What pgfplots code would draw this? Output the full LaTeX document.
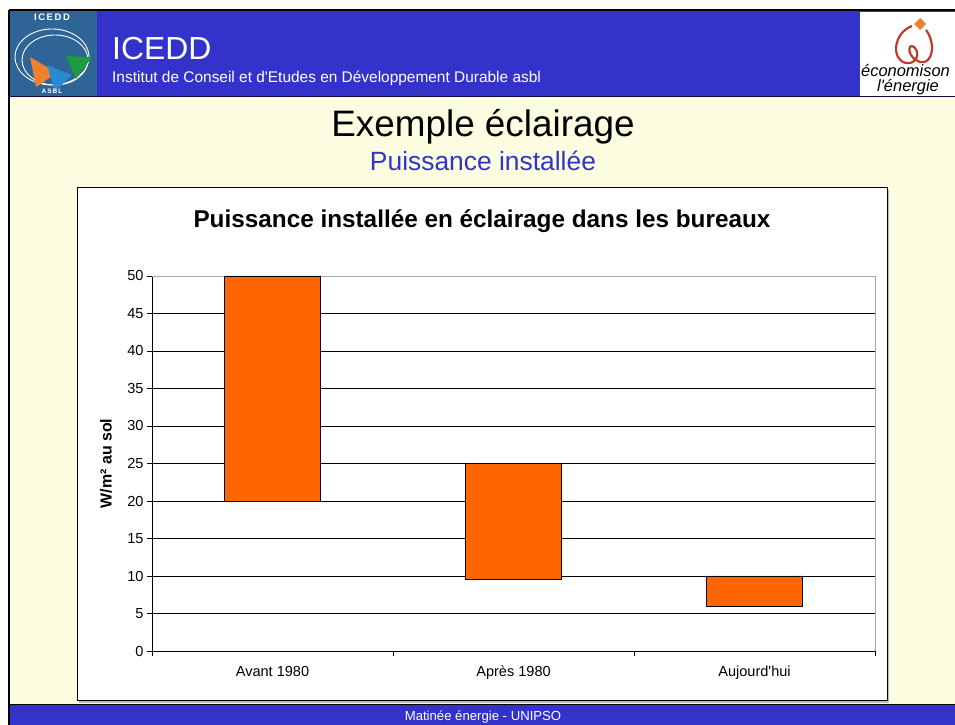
\documentclass[border=0pt]{standalone}
\usepackage{fontspec}
\setmainfont{Liberation Sans}
\usepackage{pgfplots}
\pgfplotsset{compat=1.18}
\definecolor{hdrblue}{HTML}{3333CC}
\definecolor{cream}{HTML}{FCFCE1}
\definecolor{logoblue}{HTML}{2E6496}
\definecolor{barorange}{HTML}{FF6600}
\definecolor{swirlred}{HTML}{C0392B}
\definecolor{logoorange}{HTML}{F08030}
\definecolor{logocyan}{HTML}{2A8AD0}
\definecolor{logogreen}{HTML}{1E9A40}
\begin{document}
\begin{tikzpicture}[x=1bp,y=1bp]
\useasboundingbox (0,0) rectangle (955,725);
\fill[white] (0,0) rectangle (955,725);
\fill[cream] (9,20) rectangle (955,628);
\fill[hdrblue] (9,628) rectangle (955,715);
\fill[hdrblue] (9,0) rectangle (955,20);
\draw[black,line width=1.5] (9,715) -- (955,715);
\draw[black,line width=2] (9,0) -- (9,715);
\draw[black!70!hdrblue,line width=1] (9,628) -- (955,628);
\draw[black,line width=1] (9,20) -- (955,20);
% left logo
\fill[logoblue] (10,629) rectangle (97,714);
\draw[white,line width=0.9] (52,668) ellipse [x radius=37, y radius=28];
\draw[white,line width=0.9] (55,665) ellipse [x radius=33, y radius=25];
\fill[logoorange] (30,668) -- (57,652) -- (36,638) -- cycle;
\fill[logocyan] (47,660) -- (72,650) -- (55,633) -- cycle;
\fill[logogreen] (66,669) -- (92,668) -- (76,646) -- cycle;
\node[white,font=\bfseries\fontsize{9.5}{10}\selectfont,anchor=base] at (52,704) {I\,C\,E\,D\,D};
\node[white,font=\bfseries\fontsize{6.5}{7}\selectfont,anchor=base] at (52,631) {A\,S\,B\,L};
% right logo
\fill[white] (860,629) rectangle (955,713);
\fill[logoorange] (920,707) -- (926,701) -- (920,695) -- (914,701) -- cycle;
\draw[swirlred,line width=2.2] (912,699) .. controls (893,692) and (891,665) .. (906,662)
  .. controls (916,660) and (921,672) .. (914,678) .. controls (907,683) and (907,667) .. (920,663)
  .. controls (933,660) and (936,682) .. (926,695);
\node[black,font=\itshape\fontsize{16.5}{18}\selectfont,anchor=base west,inner sep=0] at (861,648) {économison};
\node[black,font=\itshape\fontsize{16.5}{18}\selectfont,anchor=base,inner sep=0] at (908,633) {l\textquotesingle énergie};
% header texts
\node[white,font=\fontsize{32}{35}\selectfont,anchor=base west,inner sep=0] at (112,665) {ICEDD};
\node[white,font=\fontsize{15.5}{17}\selectfont,anchor=base west,inner sep=0] at (112,642) {Institut de Conseil et d\textquotesingle Etudes en Développement Durable asbl};
% footer
\node[white,font=\fontsize{13.2}{15}\selectfont,anchor=base,inner sep=0] at (483,4) {Matinée énergie - UNIPSO};
% slide titles
\node[black,font=\fontsize{37}{42}\selectfont,anchor=base,inner sep=0] at (483,588) {Exemple éclairage};
\node[hdrblue,font=\fontsize{26.5}{30}\selectfont,anchor=base,inner sep=0] at (483,554) {Puissance installée};
% chart box
\fill[gray!55] (79,22) rectangle (889,535);
\filldraw[fill=white,draw=black,line width=1] (77,24) rectangle (887,537);
\node[black,font=\bfseries\fontsize{24.4}{27}\selectfont,anchor=base,inner sep=0] at (482,497) {Puissance installée en éclairage dans les bureaux};
\begin{axis}[
  at={(152bp,74bp)}, anchor=south west,
  scale only axis, width=723bp, height=375bp,
  xmin=-0.5, xmax=2.5, ymin=0, ymax=50,
  ybar stacked, bar width=0.4,
  ytick={0,5,...,50},
  xtick={-0.5,0.5,1.5,2.5}, xticklabels={},
  extra x ticks={0,1,2},
  extra x tick labels={Avant 1980,Après 1980,Aujourd\textquotesingle hui},
  extra x tick style={major tick length=0pt, grid=none},
  axis x line*=bottom, axis y line*=left,
  tick align=outside, major tick length=5bp,
  ymajorgrids, grid style={black, line width=0.7},
  axis line style={black, line width=0.8},
  tick style={black, line width=0.8},
  /pgf/number format/assume math mode=true,
  tick label style={font=\fontsize{14.6}{16}\selectfont},
  xticklabel style={anchor=base, yshift=-26bp},
  ylabel={W/m² au sol},
  every axis y label/.style={at={(axis description cs:0,0.5)}, rotate=90, anchor=center, yshift=46bp, font=\bfseries\fontsize{16}{18}\selectfont},
  clip=false,
]
\addplot[draw=none, fill=none] coordinates {(0,20) (1,9.6) (2,6)};
\addplot[fill=barorange, draw=black, line width=0.8] coordinates {(0,30) (1,15.4) (2,4)};
\draw[gray!70, line width=0.9] (rel axis cs:0,1) -- (rel axis cs:1,1) -- (rel axis cs:1,0);
\end{axis}
\end{tikzpicture}
\end{document}
